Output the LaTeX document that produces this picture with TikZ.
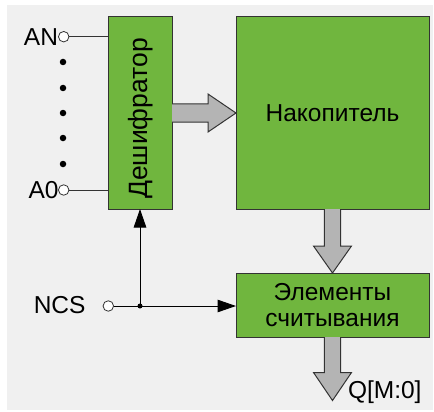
\documentclass[tikz,border=0pt]{standalone}
\usepackage{fontspec}
\setmainfont{Liberation Sans}
\usetikzlibrary{calc,arrows.meta}
\definecolor{bg}{HTML}{F0F0F0}
\definecolor{boxgreen}{HTML}{70B63E}
\definecolor{arrgray}{HTML}{B4B4B4}
\definecolor{edge}{HTML}{333333}
\begin{document}
\begin{tikzpicture}[x=1pt,y=-1pt,
  blk/.style={draw=edge,line width=1pt,fill=boxgreen,inner sep=0pt,outer sep=0pt,font=\fontsize{24.5}{25.5}\selectfont,align=center},
  lbl/.style={inner sep=0pt,outer sep=0pt,font=\fontsize{24.5}{25.5}\selectfont},
  pin/.style={circle,draw=edge,fill=white,line width=0.8pt,minimum size=10.5pt,inner sep=0pt,outer sep=0pt},
  dotnode/.style={circle,fill=black,minimum size=6.5pt,inner sep=0pt},
  jdot/.style={circle,fill=black,minimum size=5pt,inner sep=0pt},
  wire/.style={draw=edge,line width=1pt},
  sig/.style={draw=black,line width=1pt,-{Triangle[length=18.5pt,width=12.5pt]}},
  bigarrow/.style={draw=edge,line width=1pt,fill=arrgray,line join=miter}]
\useasboundingbox (0,0) rectangle (434,412);
\fill[bg] (7,5) rectangle (433,410);
% blocks
\node[blk,minimum width=64pt,minimum height=192pt] (dec) at (140,113) {};
\node[lbl,rotate=90,font=\fontsize{26.5}{28}\selectfont] (dectext) at ($(dec.center)+(1,5.5)$) {Дешифратор};
\node[blk,minimum width=193pt,minimum height=192pt] (nak) at (332.5,113) {Накопитель};
\node[blk,minimum width=193pt,minimum height=64pt] (elem) at (332.5,305) {Элементы\\считывания};
% inputs
\node[pin] (anpin) at (63.7,36.7) {};
\node[lbl,anchor=east] (an) at (58,36.7) {AN};
\node[pin] (a0pin) at (63.7,190) {};
\node[lbl,anchor=east] (a0) at (58.5,190) {A0};
\draw[wire] (anpin.east) -- (dec.west |- anpin);
\draw[wire] (a0pin.east) -- (dec.west |- a0pin);
\foreach \yy/\nm in {62/d1,88/d2,113/d3,138/d4,164/d5}
  \node[dotnode] (\nm) at (63,\yy) {};
% NCS
\node[lbl,anchor=east] (ncs) at (85.5,305.5) {NCS};
\node[pin] (ncspin) at (108.3,306) {};
\node[jdot] (j) at (dec.south |- ncspin) {};
\draw[draw=black,line width=1pt] (ncspin.east) -- (j.center);
\draw[sig] (j.center) -- (dec.south);
\draw[sig] (j.center) -- (elem.west |- j);
% big arrows
\draw[bigarrow] ($(dec.east)+(0,-9.2)$) -- ($(nak.west)+(-28,-9.2)$) -- ($(nak.west)+(-28,-19)$) -- (nak.west) -- ($(nak.west)+(-28,19)$) -- ($(nak.west)+(-28,9.2)$) -- ($(dec.east)+(0,9.2)$);
\draw[bigarrow] ($(nak.south)+(-8.2,0)$) -- ($(elem.north)+(-8.2,-27)$) -- ($(elem.north)+(-19,-27)$) -- (elem.north) -- ($(elem.north)+(19,-27)$) -- ($(elem.north)+(8.2,-27)$) -- ($(nak.south)+(8.2,0)$);
\coordinate (qtip) at ($(elem.south)+(0,63.5)$);
\draw[bigarrow] ($(elem.south)+(-8.2,0)$) -- ($(qtip)+(-8.2,-28)$) -- ($(qtip)+(-19,-28)$) -- (qtip) -- ($(qtip)+(19,-28)$) -- ($(qtip)+(8.2,-28)$) -- ($(elem.south)+(8.2,0)$);
\node[lbl,anchor=base west] (q) at (348,398) {Q[M:0]};
\end{tikzpicture}
\end{document}
